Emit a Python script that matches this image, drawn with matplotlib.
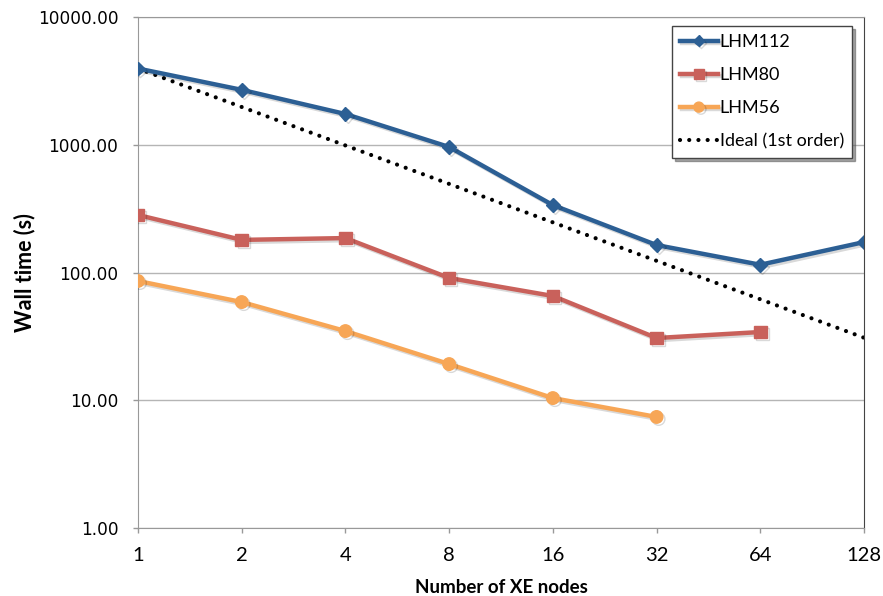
import matplotlib
matplotlib.use('Agg')
from matplotlib import pyplot as plt
from matplotlib import patheffects as pe

# node counts and wall times (s)
nodes = [1, 2, 4, 8, 16, 32, 64, 128]
lhm112 = [3950, 2690, 1740, 960, 337, 164, 115, 173]
lhm80 = [282, 180, 186, 90.6, 65.5, 30.7, 34.2]
lhm56 = [85.8, 58.7, 34.8, 19.2, 10.4, 7.4]
ideal = [3950 / n for n in nodes]
yticks = [1, 10, 100, 1000, 10000]

blue = '#2c5f94'
red = '#c9615b'
orange = '#f7a656'

fig = plt.figure(figsize=(8.83, 5.96), dpi=100)
ax = fig.add_axes([138 / 883, 1 - 528 / 596, (864 - 138) / 883, (528 - 17) / 596])

shadow = [pe.SimpleLineShadow(offset=(1.5, -1.5), alpha=0.15), pe.Normal()]

ax.plot(nodes, lhm112, color=blue, lw=3.2, marker='D', ms=7, label='LHM112',
        path_effects=shadow, zorder=4)
ax.plot(nodes[:len(lhm80)], lhm80, color=red, lw=3.2, marker='s', ms=9, label='LHM80',
        path_effects=shadow, zorder=4)
ax.plot(nodes[:len(lhm56)], lhm56, color=orange, lw=3.2, marker='o', ms=9, label='LHM56',
        path_effects=shadow, zorder=4)
ax.plot(nodes, ideal, color='black', lw=3, ls=(0, (0.01, 2.2)), dash_capstyle='round',
        label='Ideal (1st order)', zorder=3)

ax.set_xscale('log', base=2)
ax.set_yscale('log')
ax.set_xlim(1, 128)
ax.set_ylim(1, 10000)
ax.set_xticks(nodes)
ax.set_xticklabels([str(n) for n in nodes])
ax.set_yticks(yticks)
ax.set_yticklabels(['%.2f' % v for v in yticks])
ax.minorticks_off()

ax.grid(axis='y', color='#b5b5b5', lw=1)
ax.set_axisbelow(True)
for s in ['left', 'bottom', 'top']:
    ax.spines[s].set_color('#999999')
ax.spines['right'].set_color('#444444')
ax.tick_params(axis='both', color='#999999', length=3.6, width=1)
ax.tick_params(axis='x', pad=10)
ax.tick_params(axis='y', pad=10.5)

for lbl in ax.get_xticklabels():
    lbl.set_family('Lato')
    lbl.set_fontsize(14.5)
for lbl in ax.get_yticklabels():
    lbl.set_family('DejaVu Sans')
    lbl.set_fontsize(12.2)

ax.set_xlabel('Number of XE nodes', family='Lato',
              fontsize=13.5, fontweight='bold', labelpad=11)
ax.set_ylabel('Wall time (s)', family='Lato', fontsize=15.5, fontweight='bold')
ax.yaxis.set_label_coords(-0.142, 0.5)

leg = ax.legend(loc='upper right', bbox_to_anchor=(852 / 883, 1 - 26 / 596),
                bbox_transform=fig.transFigure, borderaxespad=0,
                prop={'family': 'Lato', 'size': 13},
                fancybox=False, shadow=True, framealpha=1, edgecolor='#444444',
                handlelength=2.1, handletextpad=0.1, labelspacing=0.95,
                borderpad=0.45, markerscale=0.8)
leg.get_frame().set_linewidth(1)

fig.savefig('out.png', dpi=100)
